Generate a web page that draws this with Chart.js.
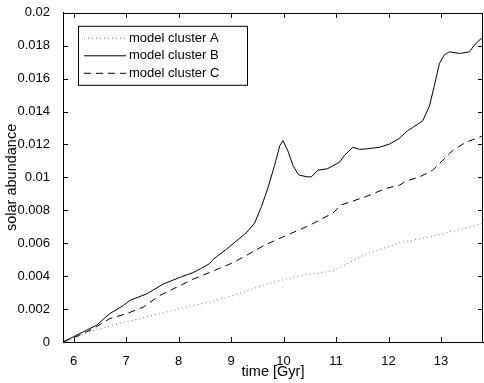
<!DOCTYPE html>
<html>
<head>
<meta charset="utf-8">
<script src="https://cdn.jsdelivr.net/npm/chart.js@4"></script>
<style>
  html, body { margin: 0; padding: 0; background: #fff; }
  #wrap { width: 484px; height: 383px; }
</style>
</head>
<body>
<div id="wrap"><canvas id="abundance"></canvas></div>
<script>
// values
const timeA = [5.8, 5.93, 6.38, 7.01, 7.64, 8.28, 8.59, 9.04, 9.67, 10.31, 10.94, 11.57, 12.21, 12.84, 13.47, 13.8];
const clusterA = [0, 0.0001, 0.00072, 0.00122, 0.00172, 0.00222, 0.00242, 0.00282, 0.00352, 0.00402, 0.00432, 0.00533, 0.00602, 0.00643, 0.00692, 0.0072];

const timeB = [5.8, 6.0, 6.25, 6.44, 6.69, 6.95, 7.07, 7.39, 7.71, 8.02, 8.28, 8.42, 8.59, 8.66, 8.91, 9.1, 9.29, 9.45,
  9.58, 9.7, 9.83, 9.93, 9.99, 10.08, 10.18, 10.27, 10.31, 10.46, 10.53, 10.65, 10.84, 11.07, 11.16, 11.32, 11.45,
  11.57, 11.7, 11.83, 12.02, 12.21, 12.36, 12.46, 12.65, 12.78, 12.87, 12.97, 13.06, 13.16, 13.35, 13.54, 13.66, 13.8];
const clusterB = [0, 0.00032, 0.00072, 0.00102, 0.00172, 0.00222, 0.00252, 0.00292, 0.00352, 0.00392, 0.00422, 0.00445, 0.00476, 0.00502,
  0.00563, 0.00613, 0.00663, 0.00723, 0.00823, 0.00933, 0.01073, 0.01193, 0.01223, 0.01163, 0.01073, 0.01023, 0.01013,
  0.01003, 0.01003, 0.01043, 0.01053, 0.01093, 0.01133, 0.01183, 0.01170, 0.01173, 0.01178, 0.01183, 0.01203, 0.01238,
  0.01283, 0.01303, 0.01343, 0.01433, 0.01553, 0.01693, 0.01743, 0.01763, 0.01753, 0.01763, 0.01813, 0.01853];

const timeC = [5.8, 6.12, 6.38, 6.69, 7.01, 7.33, 7.64, 7.96, 8.28, 8.59, 9.04, 9.67, 10.31, 10.46, 10.94, 11.1, 11.57, 11.95,
  12.21, 12.33, 12.59, 12.84, 13.22, 13.47, 13.8];
const clusterC = [0, 0.00042, 0.00082, 0.00142, 0.00172, 0.00212, 0.00282, 0.00332, 0.00382, 0.00422, 0.00482, 0.00593, 0.00683,
  0.00703, 0.00783, 0.00833, 0.00883, 0.00933, 0.00953, 0.00977, 0.01003, 0.01043, 0.01163, 0.01213, 0.01253];

const xTickValues = [6, 7, 8, 9, 10, 11, 12, 13];
const seriesNames = ['model cluster A', 'model cluster B', 'model cluster C'];

function toPoints(xs, ys) {
  return xs.map((x, i) => ({ x: x, y: ys[i] }));
}

// inward ticks on all four sides + full box, like the original
const frameTicks = {
  id: 'frameTicks',
  afterDraw(chart) {
    const ctx = chart.ctx;
    const a = chart.chartArea;
    const xs = chart.scales.x, ys = chart.scales.y;
    const len = 5;
    ctx.save();
    ctx.strokeStyle = '#000';
    ctx.lineWidth = 1;
    ctx.beginPath();
    xs.ticks.forEach(t => {
      const px = Math.round(xs.getPixelForValue(t.value)) + 0.5;
      ctx.moveTo(px, a.bottom); ctx.lineTo(px, a.bottom - len);
      ctx.moveTo(px, a.top); ctx.lineTo(px, a.top + len);
    });
    ys.ticks.forEach(t => {
      const py = Math.round(ys.getPixelForValue(t.value)) + 0.5;
      ctx.moveTo(a.left, py); ctx.lineTo(a.left + len, py);
      ctx.moveTo(a.right, py); ctx.lineTo(a.right - len, py);
    });
    ctx.stroke();
    ctx.strokeRect(Math.round(a.left) + 0.5, Math.round(a.top) + 0.5,
      Math.round(a.right - a.left) - 1, Math.round(a.bottom - a.top));
    ctx.restore();
  }
};

// legend box in the upper left of the plot area
const boxLegend = {
  id: 'boxLegend',
  afterDraw(chart) {
    const ctx = chart.ctx;
    const a = chart.chartArea;
    const bx = a.left + 15, by = a.top + 13, bw = 169, bh = 59;
    ctx.save();
    ctx.fillStyle = '#fff';
    ctx.fillRect(bx, by, bw, bh);
    ctx.strokeStyle = '#000';
    ctx.lineWidth = 1;
    ctx.strokeRect(bx + 0.5, by + 0.5, bw, bh);
    ctx.font = '13px "Liberation Sans", Arial, sans-serif';
    ctx.textBaseline = 'middle';
    chart.data.datasets.forEach((ds, i) => {
      const ry = by + 12.5 + i * 17.5;
      ctx.beginPath();
      ctx.strokeStyle = ds.borderColor;
      ctx.lineWidth = ds.borderWidth;
      ctx.setLineDash(ds.borderDash || []);
      ctx.moveTo(bx + 6, ry);
      ctx.lineTo(bx + 48, ry);
      ctx.stroke();
      ctx.setLineDash([]);
      ctx.fillStyle = '#000';
      ctx.fillText(ds.label, bx + 51, ry);
    });
    ctx.restore();
  }
};

new Chart(document.getElementById('abundance'), {
  type: 'line',
  data: {
    datasets: [
      { label: seriesNames[0], data: toPoints(timeA, clusterA), borderColor: '#7a7a7a', borderWidth: 1, borderDash: [1, 3] },
      { label: seriesNames[1], data: toPoints(timeB, clusterB), borderColor: '#000', borderWidth: 1 },
      { label: seriesNames[2], data: toPoints(timeC, clusterC), borderColor: '#000', borderWidth: 1, borderDash: [7, 5] }
    ]
  },
  options: {
    responsive: true,
    maintainAspectRatio: false,
    animation: false,
    layout: { padding: { top: 9, right: 1, left: 0, bottom: 0 } },
    elements: { point: { radius: 0 }, line: { tension: 0, fill: false } },
    plugins: { legend: { display: false }, tooltip: { enabled: false } },
    scales: {
      x: {
        type: 'linear',
        min: 5.8,
        max: 13.8,
        afterBuildTicks: axis => { axis.ticks = xTickValues.map(v => ({ value: v })); },
        afterFit: axis => { axis.height = 41; },
        grid: { display: false },
        border: { display: true, color: '#000' },
        ticks: { color: '#000', padding: 4, font: { family: '"Liberation Sans", Arial, sans-serif', size: 13 }, maxRotation: 0 },
        title: { display: true, text: 'time [Gyr]', color: '#000', padding: { top: 0, bottom: 2 },
          font: { family: '"Liberation Sans", Arial, sans-serif', size: 14.5 } }
      },
      y: {
        min: 0,
        max: 0.02,
        ticks: {
          stepSize: 0.002,
          color: '#000',
          padding: 5,
          font: { family: '"Liberation Sans", Arial, sans-serif', size: 13 },
          callback: v => String(+v.toFixed(3))
        },
        afterFit: axis => { axis.width = 63; },
        grid: { display: false },
        border: { display: true, color: '#000' },
        title: { display: true, text: 'solar abundance', color: '#000', padding: { top: 3, bottom: 0 },
          font: { family: '"Liberation Sans", Arial, sans-serif', size: 14.5 } }
      }
    }
  },
  plugins: [frameTicks, boxLegend]
});
</script>
</body>
</html>
